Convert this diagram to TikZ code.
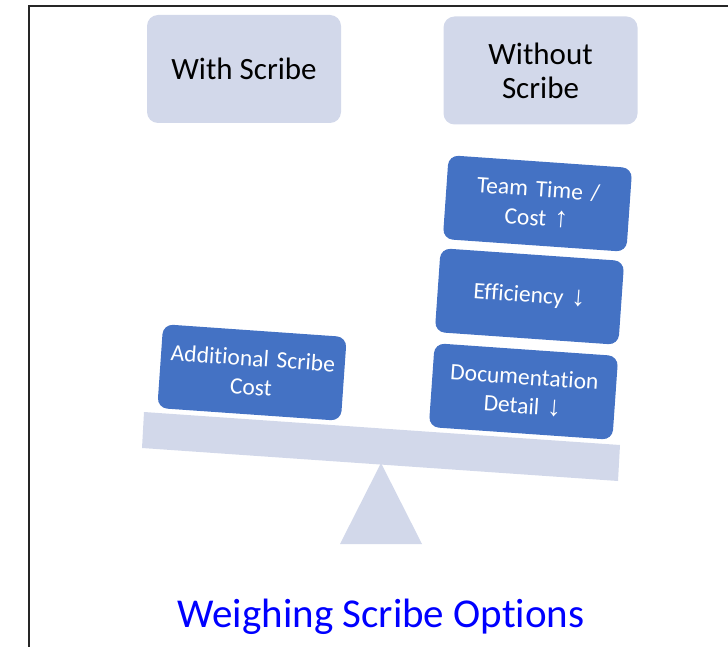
\documentclass[tikz,border=0pt]{standalone}
\usepackage{fontspec}
\setmainfont{Carlito}[Ligatures=NoCommon]
\newfontfamily\arrowfont{Liberation Sans}[Scale=1.2]
\definecolor{paleblue}{RGB}{210,216,234}
\definecolor{accentblue}{RGB}{68,114,196}
\definecolor{titleblue}{RGB}{0,0,255}
\newcommand{\upar}{{\arrowfont\char"2191}}
\newcommand{\dnar}{{\arrowfont\char"2193}}
\begin{document}
\begin{tikzpicture}[x=1pt,y=-1pt,
  header/.style={fill=paleblue, rounded corners=11pt, align=center,
    minimum width=194pt, minimum height=108pt, inner sep=0pt,
    font=\fontsize{31}{34}\selectfont},
  weight/.style={fill=accentblue, text=white, rounded corners=10pt,
    align=center, text width=176pt, minimum width=184pt, minimum height=84pt,
    inner sep=4pt, rotate=-4, font=\fontsize{23.5}{29}\selectfont},
  frame/.style={line width=2pt, draw=black!85}]
\useasboundingbox (0,0) rectangle (728,647);

% outer frame (only the left and top edges fall inside the page)
\draw[frame] (28.5,650) -- (28.5,6.5) -- (731,6.5);

% column headers
\node[header] (with) at (244,69) {With Scribe};
\node[header] (without) at (540.5,70.5) {Without\\Scribe};

% fulcrum and tilted beam
\fill[paleblue] (381,463) -- (422,544) -- (340,544) -- cycle;
\fill[paleblue] (144,412) -- (620,445) -- (618,481) -- (142,448) -- cycle;

% weights on the beam
\node[weight] (extra) at (252,372.5) {Additional Scribe\\Cost};
\node[weight] (team) at (537.5,203.5) {Team Time /\\Cost \upar};
\node[weight] (eff) at (529.5,296.5) {Efficiency \dnar};
\node[weight] (doc) at (523.5,391.5) {Documentation\\Detail \dnar};

% title
\node[text=titleblue, anchor=base, inner sep=0pt,
  font=\fontsize{41}{48}\selectfont] (title) at (381,627) {Weighing Scribe Options};
\end{tikzpicture}
\end{document}
